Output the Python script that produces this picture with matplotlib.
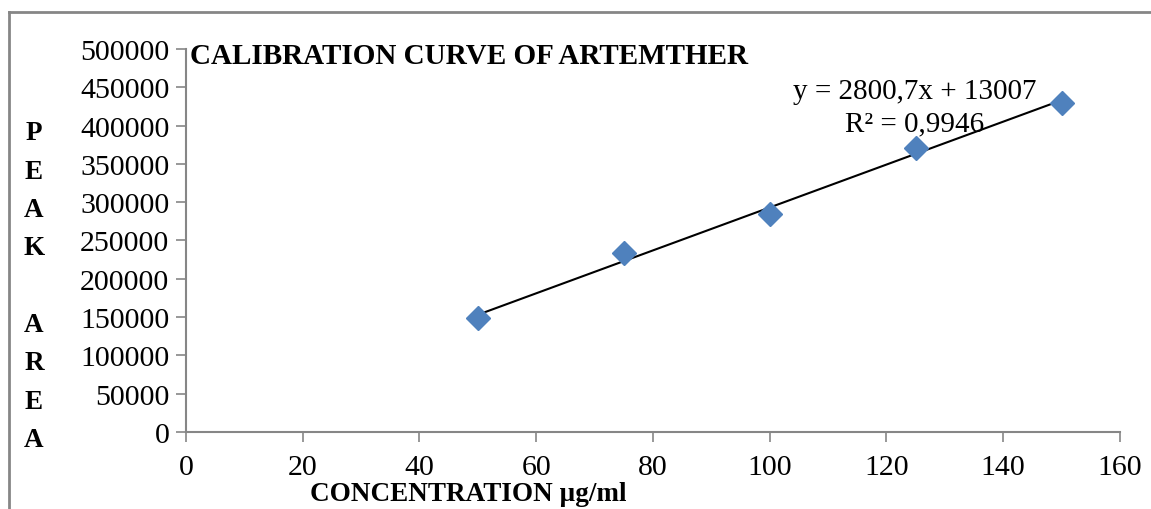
import numpy as np
import matplotlib
matplotlib.use("Agg")
from matplotlib import pyplot as plt
from matplotlib.lines import Line2D

plt.rcParams['font.family'] = ['Liberation Serif', 'DejaVu Serif']

# calibration data
conc = [50, 75, 100, 125, 150]
peak_area = [148500, 233500, 284500, 371000, 429800]

# trendline coefficients as reported
slope = 2800.7
intercept = 13007
r_squared = 0.9946

x_ticks = [0, 20, 40, 60, 80, 100, 120, 140, 160]
y_ticks = [0, 50000, 100000, 150000, 200000, 250000, 300000, 350000, 400000, 450000, 500000]

grey = '#868686'

fig = plt.figure(figsize=(11.51, 5.10), dpi=100)
ax = fig.add_axes([0.1616, 0.151, 0.8114, 0.751])

# outer chart border (top and left edges visible)
fig.add_artist(Line2D([8.5/1151, 1.0], [1 - 13/510, 1 - 13/510], color=grey, lw=2, transform=fig.transFigure))
fig.add_artist(Line2D([8.5/1151, 8.5/1151], [0, 1 - 13/510], color=grey, lw=2, transform=fig.transFigure))

fit_x = np.array([conc[0], conc[-1]])
ax.plot(fit_x, slope * fit_x + intercept, color='black', lw=1.5, zorder=2)
ax.plot(conc, peak_area, linestyle='none', marker='D', ms=12.5, color='#4F81BD', zorder=3)

ax.set_xlim(0, 160)
ax.set_ylim(0, 500000)
ax.set_xticks(x_ticks)
ax.set_yticks(y_ticks)
ax.tick_params(axis='both', direction='out', length=7, width=1.2, color=grey, labelsize=21.5)
ax.tick_params(axis='x', pad=9)
ax.tick_params(axis='y', pad=5)

for s in ['top', 'right']:
    ax.spines[s].set_visible(False)
for s in ['left', 'bottom']:
    ax.spines[s].set_color(grey)
    ax.spines[s].set_linewidth(1.5)

fig.text(915/1151, 1 - 92/510, f'y = {slope:.1f}x + {intercept}'.replace('.', ','),
         ha='center', va='center', fontsize=21)
fig.text(915/1151, 1 - 124/510, f'R² = {r_squared:.4f}'.replace('.', ','),
         ha='center', va='center', fontsize=21)

fig.text(190/1151, 1 - 56/510, 'CALIBRATION CURVE OF ARTEMTHER',
         ha='left', va='center', fontsize=21, fontweight='bold')
fig.text(468/1151, 1 - 495/510, 'CONCENTRATION µg/ml',
         ha='center', va='center', fontsize=19.5, fontweight='bold')

# vertical y label, one letter per line
letters = ['P', 'E', 'A', 'K', '', 'A', 'R', 'E', 'A']
for i, ch in enumerate(letters):
    fig.text(34/1151, 1 - (134 + i * 38.3)/510, ch, ha='center', va='center',
             fontsize=19.5, fontweight='bold')

fig.savefig('out.png', dpi=100)
